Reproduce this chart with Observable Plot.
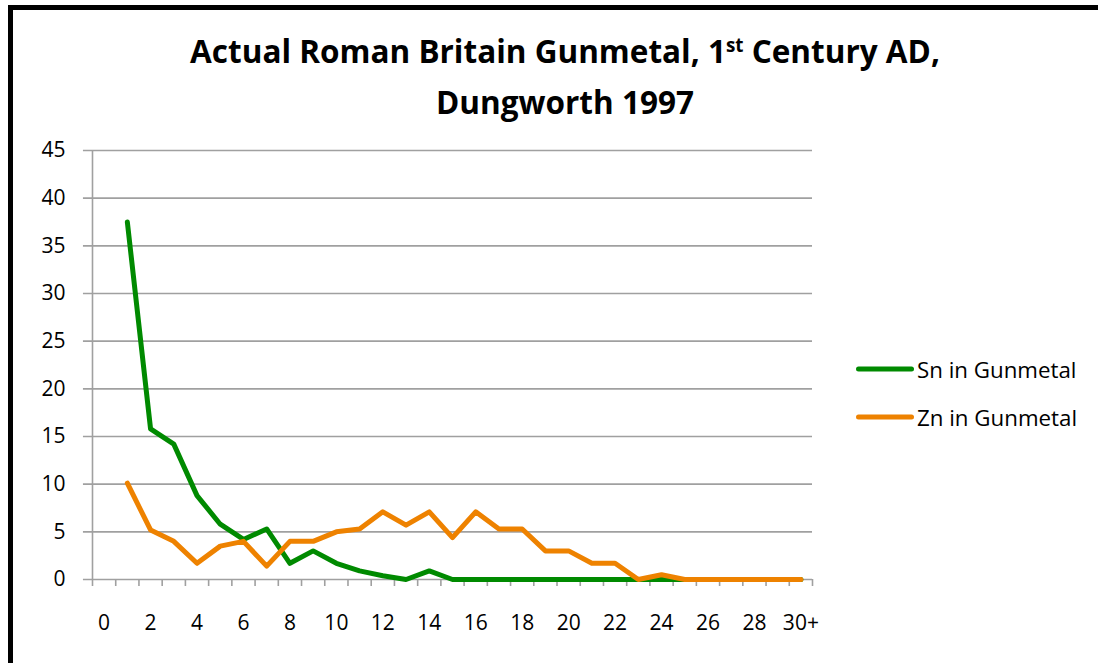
<!DOCTYPE html>
<html>
<head>
<meta charset="utf-8">
<script src="https://cdn.jsdelivr.net/npm/d3@7"></script>
<script src="https://cdn.jsdelivr.net/npm/@observablehq/plot@0.6"></script>
<style>
  html, body { margin: 0; padding: 0; background: #fff; }
  #wrap { position: relative; width: 1098px; height: 663px; overflow: hidden; background: #fff; }
  #border { position: absolute; left: 8px; top: 5px; width: 1200px; height: 800px;
            border-left: 5px solid #000; border-top: 5px solid #000; box-sizing: border-box; pointer-events: none; }
  #title { position: absolute; left: 0; width: 1130px; top: 28px; text-align: center;
           font-family: "Open Sans", sans-serif; font-weight: bold; font-size: 31.5px; line-height: 45px; color: #000; }
  #title sup { font-size: 0.6em; vertical-align: 0; position: relative; top: -0.6em; }
  #legend { position: absolute; left: 856px; top: 345px; font-family: "Open Sans", sans-serif; font-size: 22.3px; color: #000; }
  .item { display: flex; align-items: center; height: 48px; }
  .item svg { margin-right: 3px; }
  #chart { position: absolute; left: 0; top: 0; }
</style>
</head>
<body>
<div id="wrap">
  <div id="chart"></div>
  <div id="title">Actual Roman Britain Gunmetal, 1<sup>st</sup> Century AD,<br>Dungworth 1997</div>
  <div id="legend"></div>
  <div id="border"></div>
</div>
<script>
// Categories (x axis) and series values
const categories = ["0","1","2","3","4","5","6","7","8","9","10","11","12","13","14","15","16","17","18","19","20","21","22","23","24","25","26","27","28","29","30+"];
const snValues = [null, 37.5, 15.8, 14.2, 8.8, 5.8, 4.2, 5.3, 1.7, 3.0, 1.7, 0.9, 0.4, 0, 0.9, 0, 0, 0, 0, 0, 0, 0, 0, 0, 0, 0, 0, 0, 0, 0, 0];
const znValues = [null, 10.1, 5.2, 4.0, 1.7, 3.5, 4.0, 1.4, 4.0, 4.0, 5.0, 5.3, 7.1, 5.7, 7.1, 4.4, 7.1, 5.3, 5.3, 3.0, 3.0, 1.7, 1.7, 0, 0.5, 0, 0, 0, 0, 0, 0];
const seriesNames = ["Sn in Gunmetal", "Zn in Gunmetal"];
const seriesColors = ["#008a00", "#ee8200"];
const xTickLabels = ["0","2","4","6","8","10","12","14","16","18","20","22","24","26","28","30+"];
const yTicks = [0, 5, 10, 15, 20, 25, 30, 35, 40, 45];

const rows = [];
[snValues, znValues].forEach((vals, s) => {
  vals.forEach((v, i) => {
    if (v !== null) rows.push({series: seriesNames[s], i, cat: categories[i], value: v});
  });
});
const labelIdx = xTickLabels.map(l => categories.indexOf(l));
const boundaries = d3.range(categories.length + 1).map(k => k - 0.5);
const gridColor = "#a0a0a0";

const plot = Plot.plot({
  width: 1098,
  height: 663,
  marginLeft: 92,
  marginRight: 286,
  marginTop: 150,
  marginBottom: 84,
  style: {fontFamily: "'Open Sans', sans-serif", fontSize: "21px", color: "#000", background: "transparent"},
  x: {type: "linear", domain: [-0.5, categories.length - 0.5]},
  y: {domain: [0, 45]},
  color: {domain: seriesNames, range: seriesColors},
  marks: [
    Plot.ruleY(yTicks, {x1: -0.89, x2: categories.length - 0.5, stroke: gridColor, strokeWidth: 1.6}),
    Plot.ruleX([-0.5], {y1: 0, y2: 45, stroke: gridColor, strokeWidth: 1.6}),
    Plot.axisX({ticks: boundaries, tickSize: 7, tickFormat: () => "", stroke: gridColor, strokeWidth: 1.6, label: null}),
    Plot.axisX({ticks: labelIdx, tickSize: 0, tickPadding: 36, tickFormat: i => categories[i], label: null, fill: "#000"}),
    Plot.axisY({ticks: yTicks, tickSize: 0, tickPadding: 27, label: null, fill: "#000"}),
    Plot.line(rows, {x: "i", y: "value", z: "series", stroke: "series", strokeWidth: 5, strokeLinejoin: "round", strokeLinecap: "round"})
  ]
});
document.getElementById("chart").appendChild(plot);

// legend
const legend = document.getElementById("legend");
seriesNames.forEach((name, s) => {
  const item = document.createElement("div");
  item.className = "item";
  item.innerHTML = `<svg width="58" height="10"><line x1="2.5" y1="5" x2="55.5" y2="5" stroke="${seriesColors[s]}" stroke-width="5" stroke-linecap="round"/></svg><span>${name}</span>`;
  legend.appendChild(item);
});
</script>
</body>
</html>
